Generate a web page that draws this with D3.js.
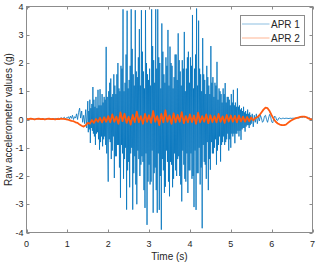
<!DOCTYPE html>
<html>
<head>
<meta charset="utf-8">
<script src="https://cdn.jsdelivr.net/npm/d3@7"></script>
<style>
  body { margin: 0; background: #fff; }
  text { font-family: "Liberation Sans", Arial, sans-serif; fill: #262626; }
</style>
</head>
<body>
<script>
// APR 1: quiet start, 0 to 1.475 s, every 0.025 s
const apr1LeadStep = 0.025;
const apr1Lead = [
  0.02,0.02,0.01,0.02,0.03,0.02,0.02,0.01,0.02,0.02, 0.03,0.02,0.02,0.02,0.01,0.02,0.03,0.02,0.02,0.02,
  0.02,0.03,0.02,0.01,0.02,0.02,0.03,0.02,0.04,0.02, 0.03,0.05,0.02,0.04,0.06,0.03,0.05,0.08,0.03,0.06,
  0.05,0.1,0.02,0.12,0.04,0.15,0.0,0.1,0.05,0.2, 0.0,0.25,0.4,0.05,0.3,-0.1,0.15,-0.15,0.35,-0.3
];

// APR 1: shaking, 1.5 to 5.4875 s, every 0.0125 s
const apr1BurstStart = 1.5;
const apr1BurstStep = 0.0125;
const apr1Burst = [
  0.65,-0.45,0.3,-0.35, 0.7,-0.83,0.4,-0.3, 0.55,-0.4,1.15,-0.5, 0.7,-0.6,0.45,-0.9, 0.8,-0.5,0.4,-0.45,
  1.05,-0.7,0.5,-1.07, 1.07,-0.8,0.5,-0.6, 0.9,-0.95,0.6,-0.7, 0.8,-0.6,0.7,-0.9, 2.57,-1.2,0.8,-0.9,
  -2.2,1.0,-0.7,1.3, -0.8,1.45,-1.4,0.8, -1.1,0.9,-0.6,1.6, -2.07,1.2,-1.3,0.9, -1.3,1.6,-0.9,2.0,
  -0.9,1.1,-1.7,1.0, -2.77,1.9,-0.9,1.8, -1.2,3.9,-2.1,1.0, -1.4,1.3,-1.0,2.3, -3.19,3.85,-1.8,1.1,
  -1.5,1.4,-2.4,1.9, -1.2,3.9,-1.0,2.5, -3.19,1.6,-1.9,1.2, -1.3,3.87,-2.3,1.7, -3.0,1.5,-1.1,2.2,
  -1.4,3.2,-2.0,1.2, -1.6,3.87,-1.3,2.4, -1.5,1.7,-2.5,1.1, -3.13,3.87,-1.2,2.0, -3.73,1.6,-2.2,1.4,
  -1.6,1.8,-2.3,1.2, -2.2,3.9,-1.1,2.6, -3.3,2.1,-1.9,1.3, -1.7,3.9,-2.5,1.8, -3.3,3.9,-1.2,2.2,
  -3.2,2.0,-2.0,1.1, -3.9,3.4,-1.4,2.4, -1.8,1.6,-2.6,1.3, -2.38,2.2,-1.1,1.9, -1.5,3.17,-2.2,1.2,
  -2.72,2.58,-1.5,2.0, -1.6,1.9,-2.4,1.1, -2.1,1.5,-1.2,2.3, -1.8,2.3,-2.0,1.4, -1.4,3.05,-1.3,2.1,
  -2.0,1.7,-2.3,1.2, -2.9,2.1,-1.1,1.8, -1.6,3.1,-2.1,1.0, -2.2,1.8,-1.2,2.2, -2.6,2.4,-1.8,1.3,
  -1.8,2.2,-1.2,1.9, -2.1,3.7,-2.0,1.1, -3.1,1.8,-1.1,2.3, -3.2,3.93,-1.9,1.2, -1.9,3.5,-1.0,1.8,
  -2.3,1.6,-1.7,1.0, -3.85,2.88,-0.9,1.6, -1.5,1.4,-1.6,0.9, -2.1,1.9,-0.8,1.5, -2.5,1.2,-1.4,0.9,
  -1.78,2.6,-0.8,1.3, -1.2,1.5,-1.2,0.8, -1.0,1.3,-0.7,1.2, -1.6,2.04,-1.1,0.7, -0.9,1.1,-0.6,1.0,
  -1.49,0.9,-0.9,0.6, -0.8,1.1,-0.6,0.9, -0.9,1.29,-0.8,0.6, -0.7,0.8,-0.5,0.8, -1.1,0.7,-0.7,0.5,
  -1.0,0.9,-0.5,0.6, -0.6,1.05,-0.5,0.5, -0.84,0.6,-0.5,0.45, -0.5,1.1,-0.4,0.45, -0.6,0.5,-0.4,0.35,
  -0.72,0.4,-0.35,0.3, -0.3,0.45,-0.3,0.25, -0.43,0.3,-0.25,0.2, -0.2,0.35,-0.2,0.2, -0.3,0.25,-0.2,0.15
];

// APR 1: settling, 5.5 to 7 s, every 0.025 s
const apr1TailStart = 5.5;
const apr1TailStep = 0.025;
const apr1Tail = [
  -0.15,0.2,-0.26,0.15,-0.1,0.2,-0.15,0.1,-0.05,0.15, 0.05,-0.1,-0.05,0.12,0.15,0.0,-0.1,0.05,0.18,0.1,
  -0.08,-0.12,0.02,0.12,0.08,-0.02,-0.03,0.05,0.06,0.02, 0.03,0.05,0.04,0.03,0.05,0.04,0.04,0.03,0.05,0.04,
  0.04,0.05,0.04,0.05,0.05,0.06,0.05,0.06,0.07,0.08, 0.07,0.09,0.08,0.1,0.07,0.08,0.05,0.06,0.03,0.02,
  0.01
];

// APR 2, one value every 0.05 s from 0 to 7 s
const apr2Step = 0.05;
const apr2Values = [
  0.02,0.01,0.03,0.02,0.0,0.02,0.03,0.01,0.02,0.0,0.02,0.03,0.01,0.02,0.0,0.02,0.01,0.03,0.02,0.01,
  0.0,-0.02,-0.05,-0.06,-0.1,-0.12,-0.18,-0.22,-0.25,-0.2,-0.12,-0.15,-0.02,-0.12,0.02,-0.08,0.06,-0.1,0.08,-0.08,
  0.12,-0.1,0.18,-0.08,0.1,-0.15,0.25,-0.06,0.2,-0.12,0.1,-0.18,0.16,-0.09,0.28,-0.1,0.12,-0.15,0.2,-0.08,
  0.15,-0.12,0.3,-0.08,0.12,-0.2,0.2,-0.1,0.32,-0.08,0.14,-0.15,0.22,-0.1,0.16,-0.08,0.26,-0.13,0.12,-0.1,
  0.18,-0.09,0.14,-0.15,0.24,-0.1,0.12,-0.08,0.18,-0.13,0.15,-0.09,0.12,-0.1,0.2,-0.08,0.11,-0.12,0.16,-0.07,
  0.14,-0.08,0.13,-0.1,0.14,-0.07,0.1,-0.08,0.09,-0.06,0.07,-0.03,0.05,0.08,0.15,0.25,0.35,0.42,0.4,0.3,
  0.15,0.02,-0.08,-0.14,-0.18,-0.2,-0.2,-0.18,-0.12,-0.06,-0.02,0.02,0.05,0.07,0.09,0.1,0.1,0.08,0.04,0.01,0.0
];

const xTicks = [0, 1, 2, 3, 4, 5, 6, 7];
const yTicks = [-4, -3, -2, -1, 0, 1, 2, 3, 4];
const seriesNames = ["APR 1", "APR 2"];
const seriesColors = ["#0072bd", "#ff5a0f"];

const width = 317;
const height = 265;
const plotLeft = 26.5, plotRight = 312.5, plotTop = 6.5, plotBottom = 232.5;
const axisColor = "#8c8c8c";

const svg = d3.select("body").append("svg")
  .attr("width", width)
  .attr("height", height);

const x = d3.scaleLinear().domain([0, 7]).range([plotLeft, plotRight]);
const y = d3.scaleLinear().domain([-4, 4]).range([plotBottom, plotTop]);

// lines
const line = d3.line()
  .x((d) => x(d[0]))
  .y((d) => y(d[1]));

const apr1 = [
  ...apr1Lead.map((v, i) => [i * apr1LeadStep, v]),
  ...apr1Burst.map((v, i) => [apr1BurstStart + i * apr1BurstStep, v]),
  ...apr1Tail.map((v, i) => [apr1TailStart + i * apr1TailStep, v])
];
const apr2 = apr2Values.map((v, i) => [i * apr2Step, v]);

svg.append("path")
  .datum(apr1)
  .attr("fill", "none")
  .attr("stroke", seriesColors[0])
  .attr("stroke-width", 0.8)
  .attr("stroke-linejoin", "round")
  .attr("d", line);

svg.append("path")
  .datum(apr2)
  .attr("fill", "none")
  .attr("stroke", seriesColors[1])
  .attr("stroke-width", 1.8)
  .attr("stroke-linejoin", "round")
  .attr("d", line);

// axes: box with inward ticks on all sides
const tickLen = 3;
const ax = svg.append("g")
  .attr("stroke", axisColor)
  .attr("stroke-width", 1)
  .attr("fill", "none");

ax.append("rect")
  .attr("x", plotLeft).attr("y", plotTop)
  .attr("width", plotRight - plotLeft).attr("height", plotBottom - plotTop);

ax.selectAll(".xt")
  .data(xTicks)
  .join("path")
  .attr("d", (d) => {
    const px = Math.round(x(d)) + 0.5;
    return `M${px},${plotBottom}v${-tickLen}M${px},${plotTop}v${tickLen}`;
  });

ax.selectAll(".yt")
  .data(yTicks)
  .join("path")
  .attr("d", (d) => {
    const py = Math.round(y(d)) + 0.5;
    return `M${plotLeft},${py}h${tickLen}M${plotRight},${py}h${-tickLen}`;
  });

svg.selectAll(".xl")
  .data(xTicks)
  .join("text")
  .attr("x", (d) => x(d))
  .attr("y", 246.5)
  .attr("text-anchor", "middle")
  .attr("font-size", 9)
  .text((d) => d);

svg.selectAll(".yl")
  .data(yTicks)
  .join("text")
  .attr("x", 23.5)
  .attr("y", (d) => y(d) + 3.2)
  .attr("text-anchor", "end")
  .attr("font-size", 9)
  .text((d) => d);

svg.append("text")
  .attr("x", (plotLeft + plotRight) / 2)
  .attr("y", 259.5)
  .attr("text-anchor", "middle")
  .attr("font-size", 10)
  .text("Time (s)");

svg.append("text")
  .attr("transform", `translate(11.5,${(plotTop + plotBottom) / 2}) rotate(-90)`)
  .attr("text-anchor", "middle")
  .attr("font-size", 10)
  .text("Raw accelerometer values (g)");

// legend
const legend = svg.append("g");
legend.append("rect")
  .attr("x", 240.5).attr("y", 15.5)
  .attr("width", 64).attr("height", 30)
  .attr("fill", "#fff")
  .attr("stroke", axisColor);

const items = legend.selectAll("g")
  .data(seriesNames)
  .join("g")
  .attr("transform", (d, i) => `translate(0,${24 + i * 14})`);

items.append("line")
  .attr("x1", 242).attr("x2", 269.5)
  .attr("stroke", (d, i) => seriesColors[i])
  .attr("stroke-opacity", 0.45)
  .attr("stroke-width", 1);

items.append("text")
  .attr("x", 271)
  .attr("y", 3.6)
  .attr("font-size", 10)
  .text((d) => d);
</script>
</body>
</html>
